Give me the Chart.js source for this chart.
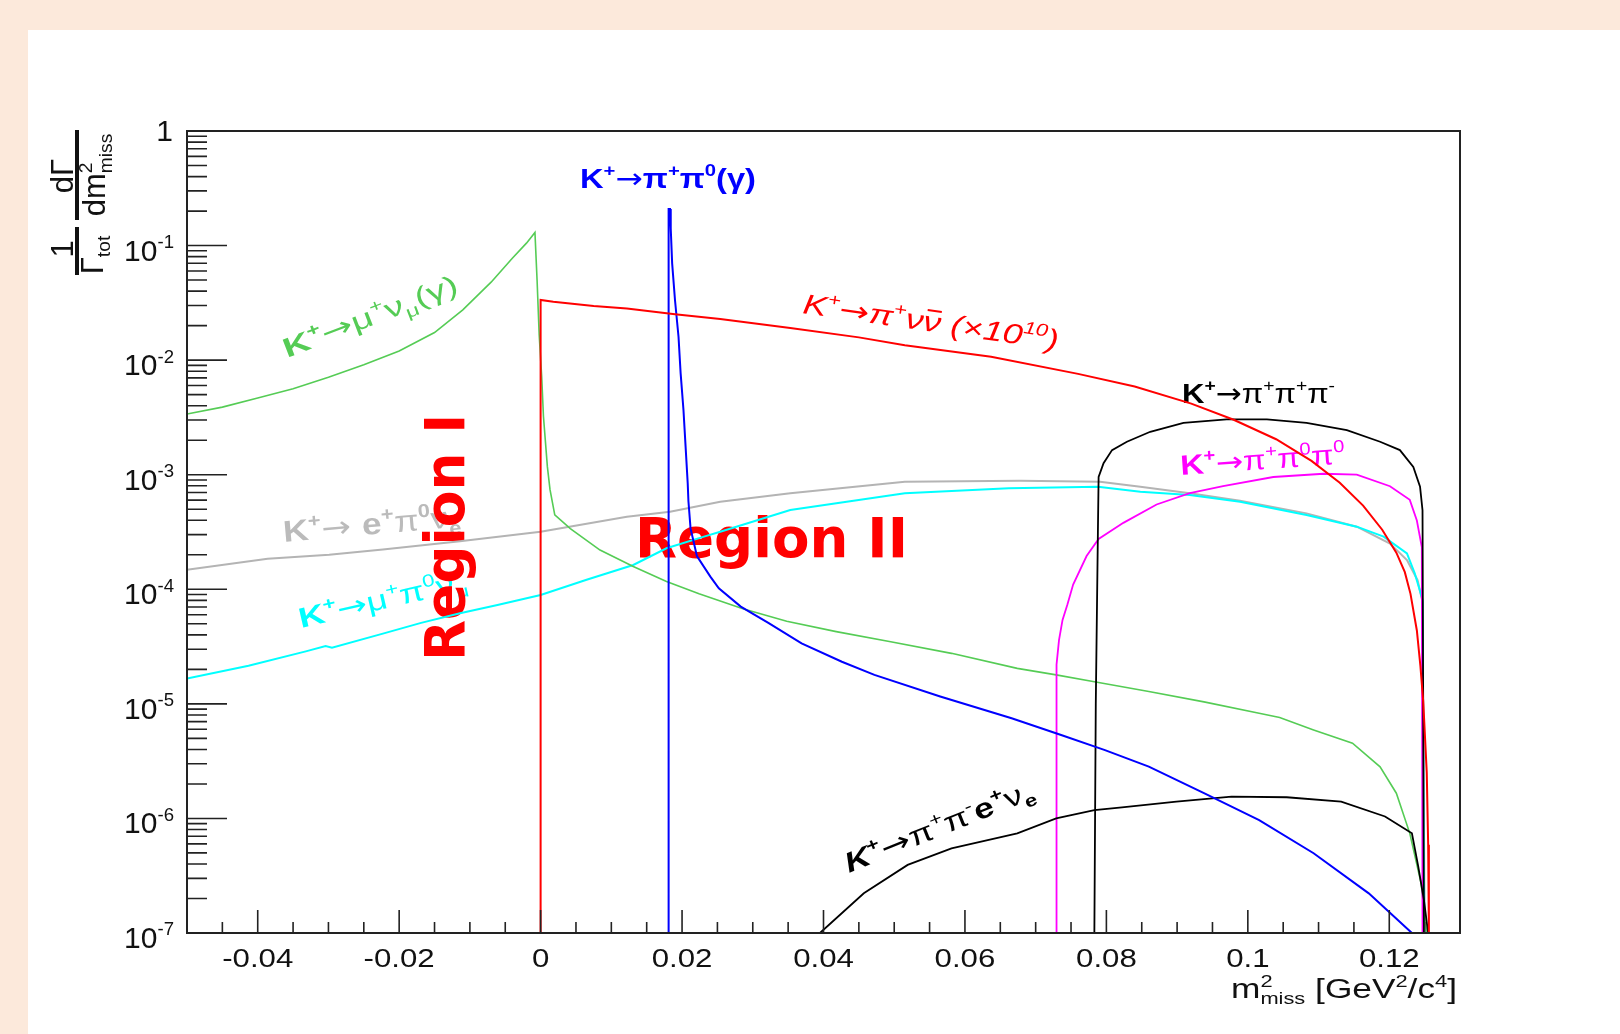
<!DOCTYPE html>
<html>
<head>
<meta charset="utf-8">
<script src="https://cdn.jsdelivr.net/npm/chart.js@4.4.1/dist/chart.umd.min.js"></script>
<style>
  html, body { margin: 0; padding: 0; background: #fce9db; }
  canvas { display: block; }
</style>
</head>
<body>
<canvas id="plot" width="1620" height="1034"></canvas>
<script>
// m2miss spectra: [m2miss, 1/Gamma dGamma/dm2]
const kmu2 = [[-0.05,3.39e-3],[-0.045,3.89e-3],[-0.04,4.68e-3],[-0.035,5.62e-3],[-0.03,7.08e-3],[-0.025,9.12e-3],
  [-0.02,1.2e-2],[-0.015,1.74e-2],[-0.011,2.75e-2],[-0.007,4.79e-2],[-0.004,7.76e-2],[-0.002,0.105],[-0.0008,0.13],
  [-0.0005,0.05],[-0.0002,1.66e-2],[0.00015,7.24e-3],[0.0004,3.24e-3],[0.00096,1.17e-3],[0.00133,7.41e-4],[0.002,4.47e-4],
  [0.0042,3.39e-4],[0.0084,2.2e-4],[0.0131,1.58e-4],[0.0178,1.17e-4],[0.0224,9.12e-5],[0.0286,6.76e-5],[0.0348,5.25e-5],
  [0.0418,4.27e-5],[0.0495,3.48e-5],[0.0581,2.76e-5],[0.0674,2.04e-5],[0.0729,1.79e-5],[0.0783,1.56e-5],[0.086,1.28e-5],
  [0.0938,1.04e-5],[0.1016,8.28e-6],[0.1045,7.59e-6],[0.1093,5.92e-6],[0.1148,4.53e-6],[0.1187,2.82e-6],[0.121,1.66e-6],
  [0.1229,7.41e-7],[0.1245,2.72e-7],[0.1253,1e-7]]

const kpi2 = [[0.0181,1e-7],[0.0181,0.209],[0.0183,0.209],[0.0184,0.141],[0.0186,7.0e-2],[0.019,3.35e-2],[0.0195,1.6e-2],
  [0.0198,7.67e-3],[0.0202,3.67e-3],[0.0205,1.76e-3],[0.0208,8.41e-4],[0.0209,5.9e-4],[0.0212,3.4e-4],[0.0221,1.95e-4],
  [0.024,1.29e-4],[0.0252,1.02e-4],[0.0283,7.06e-5],[0.0322,5.1e-5],[0.0369,3.37e-5],[0.0426,2.33e-5],[0.0472,1.79e-5],
  [0.0565,1.16e-5],[0.0666,7.48e-6],[0.0736,5.35e-6],[0.0798,3.95e-6],[0.086,2.83e-6],[0.0938,1.66e-6],[0.1016,9.68e-7],
  [0.1093,4.97e-7],[0.1171,2.22e-7],[0.1232,1e-7]]

const kpinn = [[0,1e-7],[0,3.35e-2],[0.0018,3.24e-2],[0.0075,2.97e-2],[0.0122,2.82e-2],[0.019,2.51e-2],[0.0254,2.29e-2],
  [0.0353,1.91e-2],[0.045,1.58e-2],[0.0515,1.35e-2],[0.0637,1.07e-2],[0.076,7.59e-3],[0.084,5.89e-3],[0.092,4.17e-3],
  [0.098,3.02e-3],[0.104,2.04e-3],[0.109,1.32e-3],[0.113,8.51e-4],[0.1163,5.37e-4],[0.119,3.31e-4],[0.121,2.09e-4],
  [0.1222,1.41e-4],[0.123,9.12e-5],[0.1239,4.37e-5],[0.1244,2.14e-5],[0.1248,1.05e-5],[0.1253,2.51e-6],[0.1255,5.89e-7],
  [0.1256,1e-7]]

const k3pi = [[0.0783,1e-7],[0.0785,1e-5],[0.0788,3.16e-4],[0.0789,9.55e-4],[0.0796,1.26e-3],[0.0808,1.64e-3],
  [0.0829,1.94e-3],[0.0862,2.37e-3],[0.0909,2.84e-3],[0.097,3.04e-3],[0.1027,3.04e-3],[0.1083,2.84e-3],[0.114,2.45e-3],
  [0.1187,1.94e-3],[0.1215,1.64e-3],[0.1234,1.17e-3],[0.12435,7.85e-4],[0.1247,4.9e-4],[0.1249,1e-7]]

const k3pi0 = [[0.0729,1e-7],[0.0729,1.26e-5],[0.073,2.2e-5],[0.0733,3.6e-5],[0.0738,5.4e-5],[0.0745,7.4e-5],
  [0.0753,1.1e-4],[0.0772,1.95e-4],[0.0789,2.75e-4],[0.0824,3.8e-4],[0.0871,5.5e-4],[0.0918,6.92e-4],[0.0965,7.94e-4],
  [0.1036,9.55e-4],[0.1107,1.02e-3],[0.1154,1.0e-3],[0.1201,7.94e-4],[0.1229,6.03e-4],[0.1239,3.98e-4],[0.1246,2.34e-4],
  [0.1247,1e-7]]

const ke3 = [[-0.05,1.48e-4],[-0.0386,1.85e-4],[-0.0299,2.0e-4],[-0.0223,2.22e-4],[-0.0114,2.63e-4],[0,3.18e-4],
  [0.0122,4.3e-4],[0.0183,4.75e-4],[0.0254,5.81e-4],[0.0353,6.89e-4],[0.0515,8.69e-4],[0.0678,8.87e-4],[0.0791,8.69e-4],
  [0.0848,7.85e-4],[0.0918,6.89e-4],[0.0989,5.93e-4],[0.1083,4.6e-4],[0.1154,3.52e-4],[0.1201,2.51e-4],[0.1225,1.8e-4],
  [0.124,1.2e-4],[0.1247,7.76e-5],[0.125,1e-7]]

const kmu3 = [[-0.05,1.66e-5],[-0.0413,2.15e-5],[-0.0332,2.87e-5],[-0.0304,3.19e-5],[-0.0295,3.09e-5],[-0.0223,4.1e-5],
  [-0.0169,5.09e-5],[-0.0114,6.17e-5],[-0.0061,7.29e-5],[0,8.91e-5],[0.0065,1.21e-4],[0.0131,1.63e-4],[0.0178,2.28e-4],
  [0.0231,2.88e-4],[0.0254,3.18e-4],[0.0353,4.92e-4],[0.0515,6.89e-4],[0.0662,7.6e-4],[0.0788,7.85e-4],[0.0848,7.11e-4],
  [0.0918,6.65e-4],[0.0989,5.81e-4],[0.1083,4.45e-4],[0.1154,3.52e-4],[0.1192,2.88e-4],[0.1225,2.06e-4],[0.1236,1.38e-4],
  [0.1247,8.13e-5],[0.1249,3.16e-7],[0.125,1e-7]]

const ke4 = [[0.0395,1e-7],[0.0457,2.22e-7],[0.0519,3.93e-7],[0.0581,5.48e-7],[0.0674,7.41e-7],[0.0729,1.0e-6],
  [0.0783,1.18e-6],[0.0822,1.25e-6],[0.0899,1.4e-6],[0.0977,1.55e-6],[0.1055,1.53e-6],[0.1132,1.4e-6],[0.1194,1.04e-6],
  [0.1232,7.41e-7],[0.1241,3.79e-7],[0.1249,1.94e-7],[0.1255,1e-7]]

// axis ticks
const xTickValues = [-0.04, -0.02, 0, 0.02, 0.04, 0.06, 0.08, 0.1, 0.12]
const xTickLabels = ["-0.04", "-0.02", "0", "0.02", "0.04", "0.06", "0.08", "0.1", "0.12"]
const yDecades = [0, -1, -2, -3, -4, -5, -6, -7]

const ROOT_FONT = '"Liberation Sans", Arial, "DejaVu Sans", sans-serif'
const BIG_FONT = '"DejaVu Sans", sans-serif'

// rich text: segments [text, 'sup'|'sub'|'', flags]
// flags: b bold, i italic, - overbar, k keep x (stacked), d DejaVu glyph (arrows)
function drawRich(ctx, segs, o) {
  const fam = o.font || ROOT_FONT
  ctx.save()
  ctx.translate(o.x, o.y)
  ctx.rotate((o.rot || 0) * Math.PI / 180)
  const parts = segs.map(s => {
    const t = s[0], k = s[1] || '', fl = s[2] || ''
    const sz = k ? o.size * 0.62 : o.size
    const font = (fl.includes('i') ? 'italic ' : '') + (fl.includes('b') ? 'bold ' : '') + sz + 'px ' +
      (fl.includes('d') ? BIG_FONT : fam)
    ctx.font = font
    const w = ctx.measureText(t).width
    return { t, k, font, sz, w, adv: fl.includes('k') ? 0 : w, bar: fl.includes('-') }
  })
  const total = parts.reduce((a, p) => a + p.adv, 0)
  const sx = o.width ? o.width / total : (o.sx || 1)
  ctx.scale(sx, 1)
  let cx = o.align === 'right' ? -total : o.align === 'center' ? -total / 2 : 0
  ctx.fillStyle = o.color || '#000'
  ctx.textBaseline = 'alphabetic'
  ctx.textAlign = 'left'
  parts.forEach(p => {
    ctx.font = p.font
    const dy = p.k === 'sup' ? -o.size * 0.42 : p.k === 'sub' ? o.size * 0.24 : 0
    ctx.fillText(p.t, cx, dy)
    if (p.bar) ctx.fillRect(cx + p.w * 0.15, dy - p.sz * 0.78, p.w * 0.8, Math.max(1.5, p.sz * 0.07))
    cx += p.adv
  })
  ctx.restore()
}

const ARROW = ['→', '', 'd']

const curveLabels = [
  { segs: [['K','','b'],['+','sup','b'],ARROW,['π','','b'],['+','sup','b'],['π','','b'],['0','sup','b'],['(γ)','','b']],
    x: 580, y: 188, size: 28, width: 176, rot: 0, color: '#0000ff' },
  { segs: [['K','','b'],['+','sup','b'],ARROW,['μ'],['+','sup'],['ν'],['μ','sub'],['(γ)']],
    x: 287, y: 358, size: 27, width: 185, rot: -21, color: '#55cc55' },
  { segs: [['K','','i'],['+','sup','i'],['→','','id'],['π','','i'],['+','sup','i'],['ν','','i'],['ν','','i-'],[' (×10','','i'],['10','sup','i'],[')','','i']],
    x: 802, y: 313, size: 28, width: 258, rot: 8.2, color: '#ff0000' },
  { segs: [['K','','b'],['+','sup','b'],ARROW,['π'],['+','sup'],['π'],['+','sup'],['π'],['-','sup']],
    x: 1182, y: 403, size: 28, width: 153, rot: 0, color: '#000000' },
  { segs: [['K','','b'],['+','sup','b'],ARROW,['π'],['+','sup'],['π'],['0','sup'],['π'],['0','sup']],
    x: 1181, y: 475, size: 28, width: 165, rot: -4, color: '#ff00ff' },
  { segs: [['K','','b'],['+','sup','b'],['→ ','','d'],['e','','b'],['+','sup','b'],['π'],['0','sup','b'],['ν'],['e','sub','b']],
    x: 284, y: 542, size: 30, width: 178, rot: -5, color: '#bbbbbb' },
  { segs: [['K','','b'],['+','sup','b'],ARROW,['μ'],['+','sup'],['π'],['0','sup'],['ν'],['μ','sub']],
    x: 301, y: 628, size: 28, width: 172, rot: -13, color: '#00ffff' },
  { segs: [['K','','bi'],['+','sup','b'],ARROW,['π'],['+','sup'],['π'],['-','sup'],['e','','b'],['+','sup','b'],['ν'],['e','sub','b']],
    x: 849, y: 873, size: 28, width: 202, rot: -22, color: '#000000' }
]

const rootStyle = {
  id: 'rootStyle',
  beforeDraw(chart) {
    const ctx = chart.ctx
    ctx.save()
    ctx.fillStyle = '#fce9db'
    ctx.fillRect(0, 0, chart.width, chart.height)
    ctx.fillStyle = '#ffffff'
    ctx.fillRect(28, 30, chart.width - 28, chart.height - 30)
    ctx.restore()
  },
  beforeDatasetsDraw(chart) {
    const ctx = chart.ctx
    curveLabels.forEach(l => drawRich(ctx, l.segs, l))
    drawRich(ctx, [['Region II', '', 'b']], { x: 635, y: 557, size: 55, width: 273, font: BIG_FONT, color: '#ff0000' })
    drawRich(ctx, [['Region I', '', 'b']], { x: 464, y: 661, size: 55, width: 247, rot: -90, font: BIG_FONT, color: '#ff0000' })
  },
  afterDraw(chart) {
    const ctx = chart.ctx
    const a = chart.chartArea
    const xs = chart.scales.x, ys = chart.scales.y
    ctx.save()
    ctx.strokeStyle = '#222'
    ctx.fillStyle = '#222'
    ctx.lineWidth = 2
    ctx.strokeRect(a.left, a.top, a.right - a.left, a.bottom - a.top)

    // y ticks (log): majors at decades, minors 2..9
    ctx.lineWidth = 1.6
    ctx.beginPath()
    yDecades.forEach(d => {
      const base = Math.pow(10, d)
      const py = ys.getPixelForValue(base)
      ctx.moveTo(a.left, py); ctx.lineTo(a.left + 40, py)
      if (d < 0) {
        for (let k = 2; k <= 9; k++) {
          const pm = ys.getPixelForValue(k * base)
          ctx.moveTo(a.left, pm); ctx.lineTo(a.left + 20, pm)
        }
      }
    })
    // x ticks every 0.005, long at labelled values
    for (let i = -9; i <= 25; i++) {
      const v = i * 0.005
      const px = xs.getPixelForValue(v)
      const isLab = xTickValues.some(t => Math.abs(t - v) < 1e-9)
      ctx.moveTo(px, a.bottom); ctx.lineTo(px, a.bottom - (isLab ? 23 : 11))
    }
    ctx.stroke()

    // tick labels
    xTickValues.forEach((v, i) => {
      drawRich(ctx, [[xTickLabels[i]]], { x: xs.getPixelForValue(v), y: 967, size: 26, sx: 1.2, align: 'center', color: '#111' })
    })
    yDecades.forEach(d => {
      const py = ys.getPixelForValue(Math.pow(10, d))
      if (d === 0) drawRich(ctx, [['1']], { x: 173, y: py + 10, size: 30, align: 'right', color: '#111' })
      else drawRich(ctx, [['10'], [String(d), 'sup']], { x: 174, y: py + 15, size: 30, align: 'right', color: '#111' })
    })

    // axis titles
    drawRich(ctx, [['m'], ['2', 'sup', 'k'], ['miss', 'sub'], [' [GeV'], ['2', 'sup'], ['/c'], ['4', 'sup'], [']']],
      { x: 1457, y: 998, size: 27, width: 226, align: 'right', color: '#111' })
    drawRich(ctx, [['1']], { x: 73, y: 249, size: 31, rot: -90, align: 'center', color: '#111' })
    drawRich(ctx, [['Γ'], ['tot', 'sub']], { x: 103, y: 255, size: 31, rot: -90, align: 'center', color: '#111' })
    drawRich(ctx, [['dΓ']], { x: 73, y: 176, size: 31, rot: -90, align: 'center', color: '#111' })
    drawRich(ctx, [['dm'], ['2', 'sup', 'k'], ['miss', 'sub']], { x: 105, y: 175, size: 31, rot: -90, align: 'center', color: '#111' })
    ctx.fillStyle = '#111'
    ctx.fillRect(75, 227, 4, 48)
    ctx.fillRect(75, 130, 4, 90)
    ctx.restore()
  }
}

function series(points, color, width) {
  return {
    data: points.map(p => ({ x: p[0], y: p[1] })),
    borderColor: color,
    borderWidth: width || 1.8,
    pointRadius: 0,
    fill: false,
    tension: 0
  }
}

new Chart(document.getElementById('plot'), {
  type: 'line',
  data: {
    datasets: [
      series(kpinn, '#ff0000', 2),
      series(kpi2, '#0000ff', 2),
      series(k3pi, '#000000', 1.8),
      series(ke4, '#000000', 1.8),
      series(k3pi0, '#ff00ff', 1.8),
      series(kmu2, '#55cc55', 1.6),
      series(kmu3, '#00ffff', 2),
      series(ke3, '#b4b4b4', 2)
    ]
  },
  options: {
    responsive: false,
    animation: false,
    devicePixelRatio: 1,
    layout: { padding: { left: 187, top: 131, right: 160, bottom: 101 } },
    plugins: { legend: { display: false }, tooltip: { enabled: false } },
    scales: {
      x: { type: 'linear', min: -0.05, max: 0.13, display: false },
      y: { type: 'logarithmic', min: 1e-7, max: 1, display: false }
    }
  },
  plugins: [rootStyle]
})
</script>
</body>
</html>
